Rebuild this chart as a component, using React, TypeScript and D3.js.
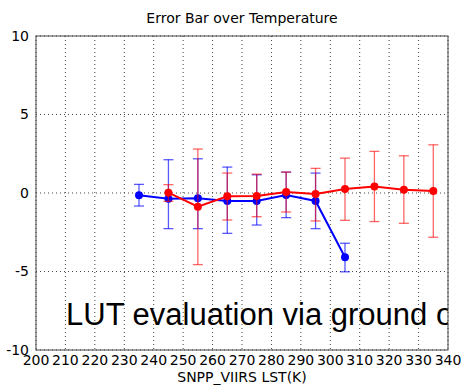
import React from "react";
import * as d3 from "d3";

const xTicks = [200, 210, 220, 230, 240, 250, 260, 270, 280, 290, 300, 310, 320, 330, 340];
const yTicks = [-10, -5, 0, 5, 10];

const blueX = [235, 245, 255, 265, 275, 285, 295, 305];
const blueY = [-0.15, -0.36, -0.34, -0.51, -0.51, -0.13, -0.51, -4.09];
const blueHi = [0.55, 2.12, 2.18, 1.65, 1.16, 1.33, 1.27, -3.2];
const blueLo = [-0.83, -2.27, -2.27, -2.57, -2.04, -1.57, -2.27, -5.02];

const redX = [245, 255, 265, 275, 285, 295, 305, 315, 325, 335];
const redY = [0.02, -0.87, -0.21, -0.19, 0.06, -0.07, 0.25, 0.42, 0.21, 0.13];
const redHi = [0.53, 2.8, 1.27, 1.2, 1.33, 1.57, 2.22, 2.65, 2.37, 3.07];
const redLo = [-0.53, -4.56, -1.72, -1.51, -1.21, -1.78, -1.74, -1.82, -1.93, -2.82];

const title = "Error Bar over Temperature";
const xLabel = "SNPP_VIIRS LST(K)";
const overlayText = "LUT evaluation via ground observations";

const W = 462;
const H = 391;
const L = 36, R = 448, T = 36, B = 350;

export default function App() {
  const x = d3.scaleLinear().domain([200, 340]).range([L, R]);
  const y = d3.scaleLinear().domain([-10, 10]).range([B, T]);
  const line = d3.line<[number, number]>().x(d => x(d[0])).y(d => y(d[1]));
  const font = "DejaVu Sans, sans-serif";

  const series = [
    { xs: blueX, ys: blueY, hi: blueHi, lo: blueLo, color: "#0000ff", err: "rgba(0,0,255,0.65)" },
    { xs: redX, ys: redY, hi: redHi, lo: redLo, color: "#ff0000", err: "rgba(255,0,0,0.6)" },
  ];

  return (
    <svg width={W} height={H} style={{ position: "absolute", left: 0, top: 0, background: "#fff" }}>
      <defs>
        <clipPath id="plot">
          <rect x={L} y={T} width={R - L} height={B - T} />
        </clipPath>
      </defs>
      <rect x={0} y={0} width={W} height={H} fill="#fff" />
      {xTicks.map(t => (
        <line key={"gx" + t} x1={x(t)} x2={x(t)} y1={T} y2={B} stroke="#444" strokeWidth={1} strokeDasharray="1,3" />
      ))}
      {yTicks.map(t => (
        <line key={"gy" + t} x1={L} x2={R} y1={y(t)} y2={y(t)} stroke="#444" strokeWidth={1} strokeDasharray="1,3" />
      ))}
      <g clipPath="url(#plot)">
        {series.map((s, si) => (
          <g key={si}>
            <path d={line(s.xs.map((v, i) => [v, s.ys[i]] as [number, number])) || ""} fill="none" stroke={s.color} strokeWidth={2} />
            {s.xs.map((v, i) => (
              <g key={i} stroke={s.err} strokeWidth={1.3}>
                <line x1={x(v)} x2={x(v)} y1={y(s.hi[i])} y2={y(s.lo[i])} />
                <line x1={x(v) - 5} x2={x(v) + 5} y1={y(s.hi[i])} y2={y(s.hi[i])} />
                <line x1={x(v) - 5} x2={x(v) + 5} y1={y(s.lo[i])} y2={y(s.lo[i])} />
              </g>
            ))}
            {s.xs.map((v, i) => (
              <circle key={"c" + i} cx={x(v)} cy={y(s.ys[i])} r={4} fill={s.color} />
            ))}
          </g>
        ))}
        <text x={66} y={325} fontFamily="Liberation Sans, Arial, sans-serif" fontSize={31} fill="#000">
          {overlayText}
        </text>
      </g>
      <rect x={L} y={T} width={R - L} height={B - T} fill="none" stroke="#444" strokeWidth={1} />
      {yTicks.map(t => (
        <text key={"ly" + t} x={L - 7} y={y(t)} dy="0.35em" textAnchor="end" fontFamily={font} fontSize={14} fill="#000">
          {t}
        </text>
      ))}
      {xTicks.map(t => (
        <text key={"lx" + t} x={x(t)} y={365} textAnchor="middle" fontFamily={font} fontSize={14} fill="#000">
          {t}
        </text>
      ))}
      <text x={(L + R) / 2} y={23} textAnchor="middle" fontFamily={font} fontSize={14} fill="#000">{title}</text>
      <text x={(L + R) / 2} y={382} textAnchor="middle" fontFamily={font} fontSize={14} fill="#000">{xLabel}</text>
    </svg>
  );
}
